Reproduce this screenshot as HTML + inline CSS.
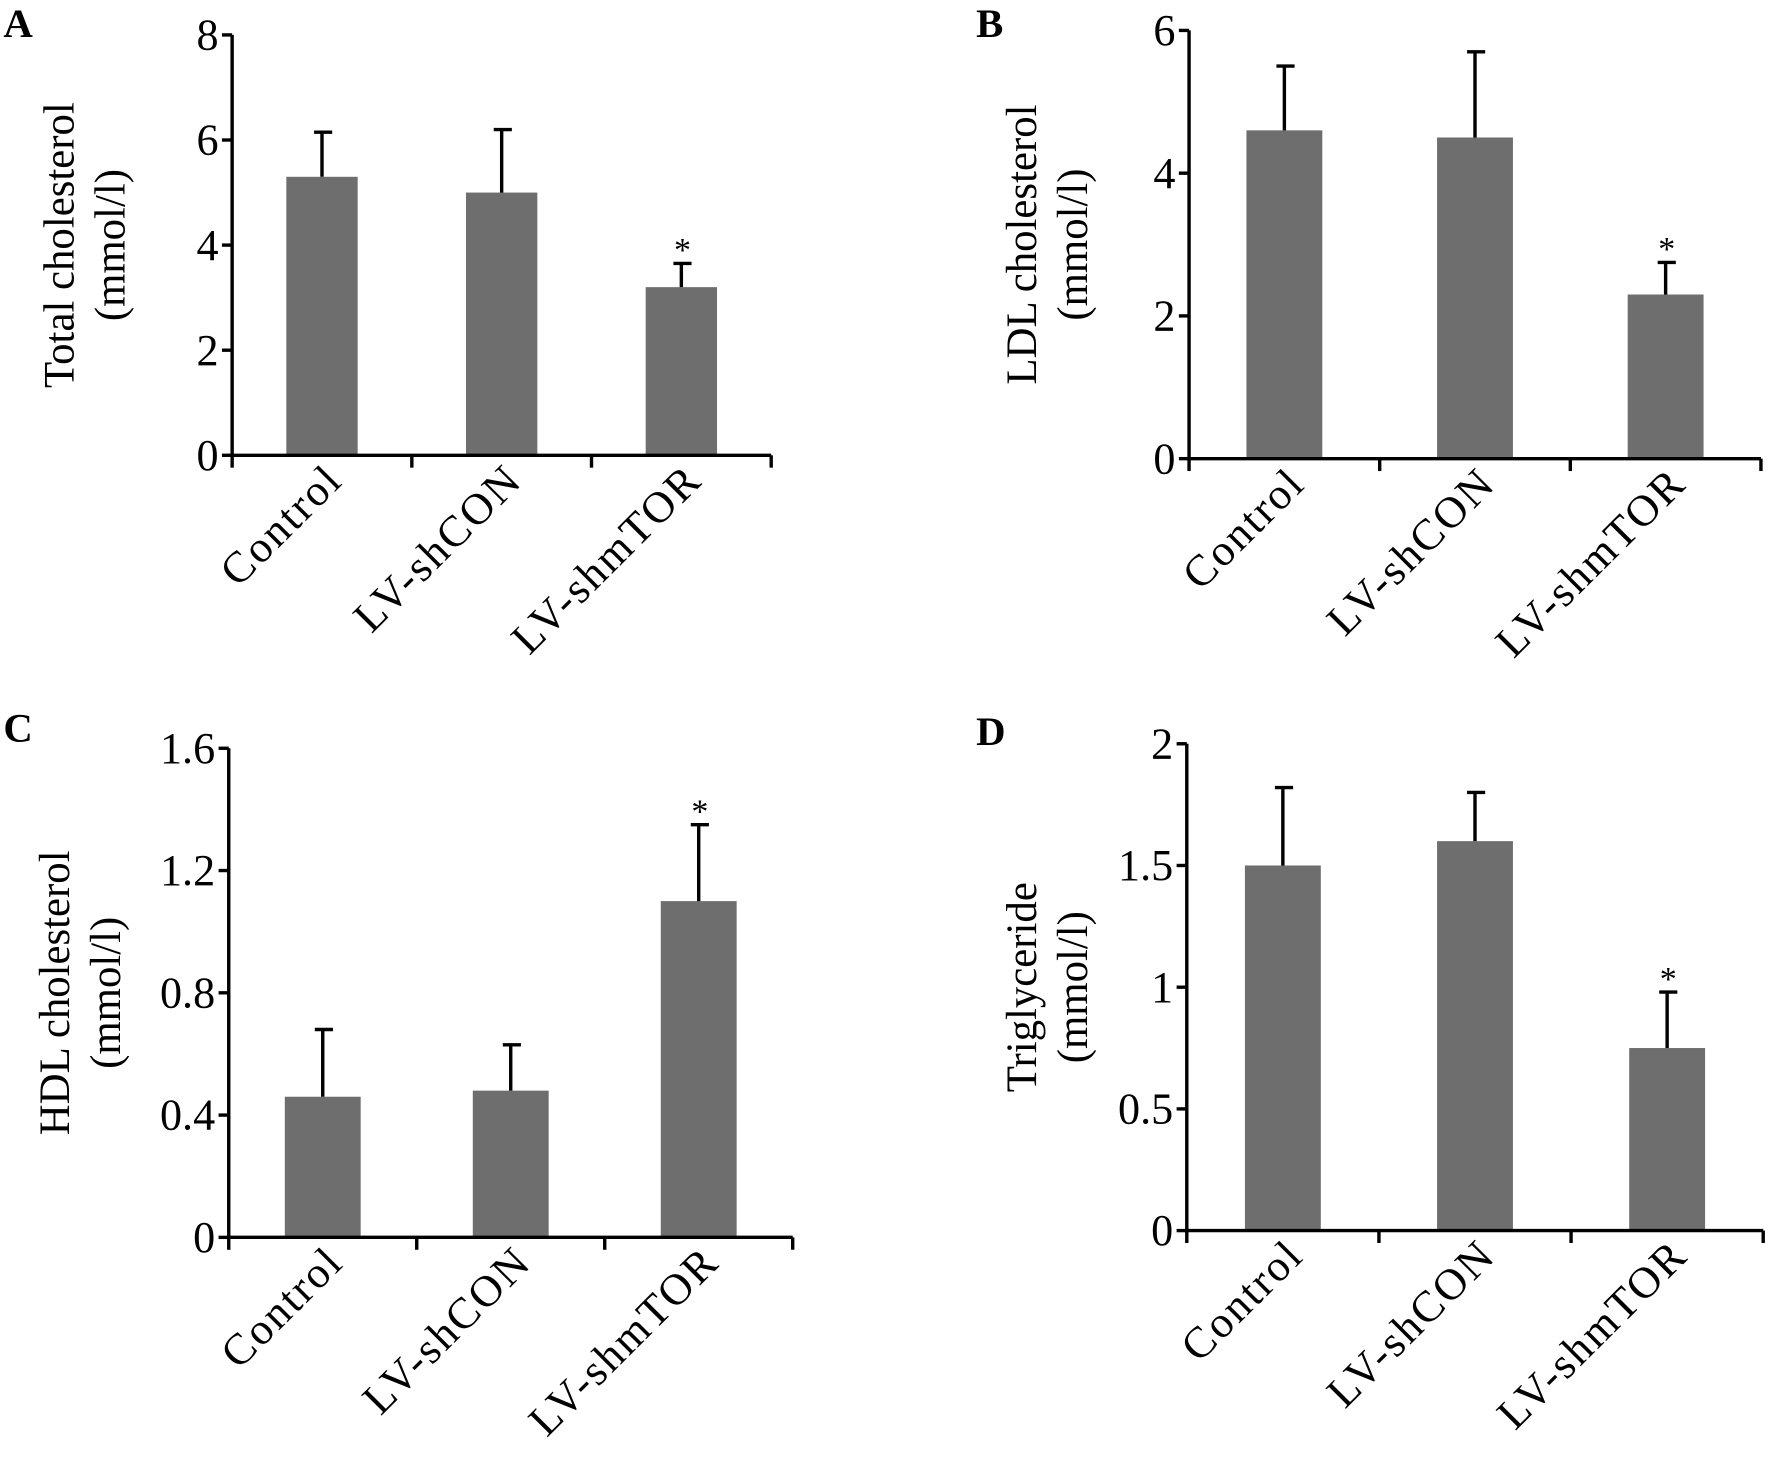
<!DOCTYPE html>
<html><head><meta charset="utf-8"><style>
html,body{margin:0;padding:0;background:#fff}
svg{display:block}
text{font-family:"Liberation Serif",serif;fill:#000}
</style></head><body>
<svg id="fig" width="1770" height="1465" viewBox="0 0 1563 1300" preserveAspectRatio="none" xmlns="http://www.w3.org/2000/svg"></svg>
<script>
const categories = ["Control","LV-shCON","LV-shmTOR"];
const valuesA = [5.3, 5.0, 3.2];
const errTopA = [6.15, 6.2, 3.65];
const ticksA = ["0","2","4","6","8"];
const valuesB = [4.6, 4.5, 2.3];
const errTopB = [5.5, 5.7, 2.75];
const ticksB = ["0","2","4","6"];
const valuesC = [0.46, 0.48, 1.10];
const errTopC = [0.68, 0.63, 1.35];
const ticksC = ["0","0.4","0.8","1.2","1.6"];
const valuesD = [1.5, 1.6, 0.75];
const errTopD = [1.82, 1.8, 0.98];
const ticksD = ["0","0.5","1","1.5","2"];
const starsA = [false,false,true];
const starsB = [false,false,true];
const starsC = [false,false,true];
const starsD = [false,false,true];

const NS="http://www.w3.org/2000/svg";
const svg=document.getElementById('fig');
function mk(tag,attrs,parent){const e=document.createElementNS(NS,tag);for(const k in attrs)e.setAttribute(k,attrs[k]);(parent||svg).appendChild(e);return e;}

function panel(cfg){
  const g=mk('g',{});
  
  
  const ymax=parseFloat(cfg.ticks[cfg.ticks.length-1]);
  const y=v=>cfg.y0-(v/ymax)*(cfg.y0-cfg.yTop);
  const n=cfg.vals.length, step=(cfg.xEnd-cfg.x0)/n;
  const cx=i=>cfg.x0+step*(i+0.5);
  cfg.vals.forEach((v,i)=>{
    const r=mk('rect',{x:cx(i)-cfg.bw/2,y:y(v),width:cfg.bw,height:cfg.y0-y(v),fill:'#6e6e6e'},g);
    
    
    const e=mk('path',{d:`M${cx(i)} ${y(v)}V${y(cfg.err[i])}M${cx(i)-7} ${y(cfg.err[i])}H${cx(i)+9}`,stroke:'#000','stroke-width':3,fill:'none'},g);
    
    
    if(cfg.stars[i]){const s=mk('text',{x:cx(i)+1,y:y(cfg.err[i])-2,'font-size':30,'text-anchor':'middle'},g);s.textContent='*';
      
      }
  });
  const ax=mk('path',{d:`M${cfg.x0} ${cfg.yTop}V${cfg.y0}H${cfg.xEnd}`,stroke:'#000','stroke-width':3,fill:'none'},g);
  
  
  cfg.ticks.forEach(t=>{
    const v=parseFloat(t);
    mk('line',{x1:cfg.x0-9,x2:cfg.x0,y1:y(v),y2:y(v),stroke:'#000','stroke-width':3},g);
    const tl=mk('text',{x:cfg.x0-12,y:y(v)+13,'font-size':39,'text-anchor':'end'},g);tl.textContent=t;
    
    
  });
  for(let i=0;i<=n;i++){const xx=cfg.x0+step*i;mk('line',{x1:xx,x2:xx,y1:cfg.y0,y2:cfg.y0+11,stroke:'#000','stroke-width':3},g);}
  categories.forEach((c,i)=>{
    const t=mk('text',{transform:`translate(${cx(i)+20},${cfg.y0+24}) rotate(-45)`,'font-size':39,'text-anchor':'end','letter-spacing':'2'},g);
    t.textContent=c;
    
    
  });
  const my=(cfg.y0+cfg.yTop)/2;
  cfg.title.forEach((line,k)=>{
    const t=mk('text',{transform:`translate(${cfg.tx+k*45},${my}) rotate(-90)`,'font-size':38,'text-anchor':'middle'},g);
    t.textContent=line;
    
    
  });
  const L=mk('text',{x:cfg.lx,y:cfg.ly,'font-size':36,'font-weight':'bold'},g);L.textContent=cfg.letter;
  
  
}
panel({letter:'A',lx:3,ly:33,x0:205,xEnd:681,yTop:31,y0:404,bw:63,vals:valuesA,err:errTopA,ticks:ticksA,stars:starsA,title:['Total cholesterol','(mmol/l)'],tx:65});
panel({letter:'B',lx:862,ly:33,x0:1050,xEnd:1555,yTop:27,y0:407,bw:67,vals:valuesB,err:errTopB,ticks:ticksB,stars:starsB,title:['LDL cholesterol','(mmol/l)'],tx:915});
panel({letter:'C',lx:3,ly:658,x0:202,xEnd:700,yTop:664,y0:1098,bw:67,vals:valuesC,err:errTopC,ticks:ticksC,stars:starsC,title:['HDL cholesterol','(mmol/l)'],tx:61});
panel({letter:'D',lx:862,ly:661,x0:1048,xEnd:1557,yTop:660,y0:1092,bw:67,vals:valuesD,err:errTopD,ticks:ticksD,stars:starsD,title:['Triglyceride','(mmol/l)'],tx:915});
</script>
</body></html>
